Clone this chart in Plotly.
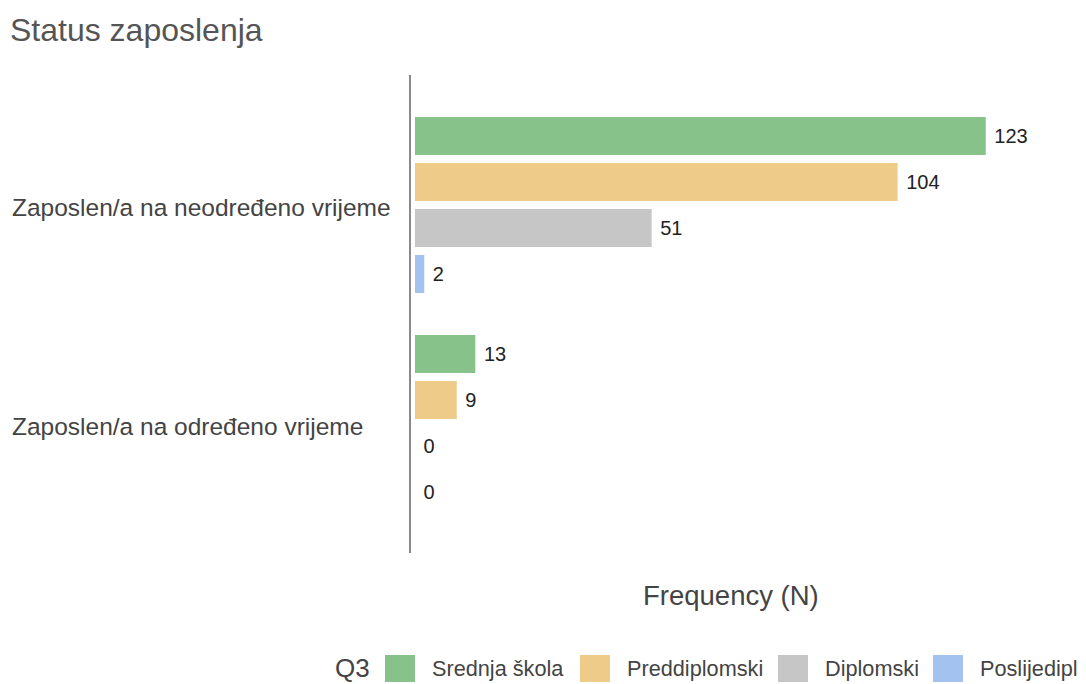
import plotly.graph_objects as go

# Data
categories = ["Zaposlen/a na neodređeno vrijeme", "Zaposlen/a na određeno vrijeme"]
series_names = ["Srednja škola", "Preddiplomski", "Diplomski", "Poslijediplomski"]
srednja = [123, 13]
preddiplomski = [104, 9]
diplomski = [51, 0]
poslijediplomski = [2, 0]
series_values = [srednja, preddiplomski, diplomski, poslijediplomski]

COLORS = ["#86c28a", "#efcb8a", "#c6c6c6", "#a4c2f0"]
FONT = "Liberation Sans, Arial, sans-serif"

# the page body has an 8px margin, so the figure is drawn 8px in from the corner
OFF = 8
W, H = 1086 - OFF, 684 - OFF
L, T = 411 - OFF, 75 - OFF
B = H - (553 - OFF)
R = 0
PW, PH = W - L - R, H - T - B


def px_x(x):
    # x in screenshot pixels -> paper coords
    return (x - OFF - L) / PW


def px_y(y):
    return (T + PH - (y - OFF)) / PH


fig = go.Figure()
for name, vals, col in zip(series_names, series_values, COLORS):
    fig.add_trace(go.Bar(
        name=name,
        y=categories,
        x=vals,
        orientation="h",
        marker=dict(color=col, line=dict(width=0)),
        text=vals,
        texttemplate="\u00a0%{x}",
        textposition="outside",
        textfont=dict(size=20, color="#222222", family=FONT),
        cliponaxis=False,
        showlegend=False,
        hovertemplate="%{y}: %{x}<extra>" + name + "</extra>",
    ))

annotations = []
# category labels, left aligned
for cat in categories:
    annotations.append(dict(
        text=cat, xref="paper", yref="y", x=px_x(10), y=cat, yshift=-3,
        xanchor="left", yanchor="middle", showarrow=False,
        font=dict(size=24.5, color="#444444", family=FONT),
    ))

# axis title
annotations.append(dict(
    text="Frequency (N)", xref="paper", yref="paper", x=px_x(731), y=px_y(595),
    xanchor="center", yanchor="middle", showarrow=False,
    font=dict(size=27.5, color="#444444", family=FONT),
))

# legend, built by hand so the swatches are large like the reference
annotations.append(dict(
    text="Q3", xref="paper", yref="paper", x=px_x(333), y=px_y(668),
    xanchor="left", yanchor="middle", showarrow=False,
    font=dict(size=26, color="#444444", family=FONT),
))
swatch_x = [385, 580, 778, 933]
shapes = []
for sx, name, col in zip(swatch_x, series_names, COLORS):
    shapes.append(dict(
        type="rect", xref="paper", yref="paper",
        x0=px_x(sx), x1=px_x(sx + 30), y0=px_y(682), y1=px_y(655),
        fillcolor=col, line=dict(width=0),
    ))
    annotations.append(dict(
        text=name, xref="paper", yref="paper", x=px_x(sx + 45), y=px_y(668),
        xanchor="left", yanchor="middle", showarrow=False,
        font=dict(size=21.7, color="#444444", family=FONT),
    ))

fig.update_layout(
    width=W,
    height=H,
    margin=dict(l=L, r=R, t=T, b=B),
    paper_bgcolor="white",
    plot_bgcolor="white",
    font=dict(family=FONT, color="#444444"),
    title=dict(
        text="Status zaposlenja", x=(10 - OFF) / W, xanchor="left",
        y=1 - (30 - OFF) / H, yanchor="middle",
        font=dict(size=32, color="#555555", family=FONT),
    ),
    barmode="group",
    bargap=0.156,
    bargroupgap=0.174,
    showlegend=False,
    xaxis=dict(
        range=[-0.86, 144.6], showgrid=False, zeroline=False, showline=False,
        showticklabels=False, ticks="",
    ),
    yaxis=dict(
        categoryorder="array", categoryarray=categories,
        range=[1.596, -0.596], showgrid=False, zeroline=False,
        showline=True, linecolor="#8a8a8a", linewidth=2,
        showticklabels=False, ticks="",
    ),
    annotations=annotations,
    shapes=shapes,
)

fig.write_html("out.html")
